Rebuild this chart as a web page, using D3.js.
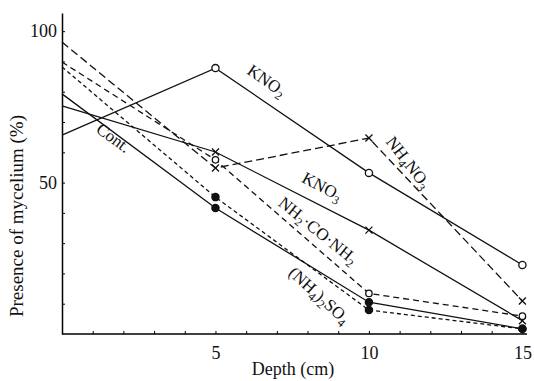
<!DOCTYPE html>
<html>
<head>
<meta charset="utf-8">
<script src="https://cdn.jsdelivr.net/npm/d3@7"></script>
<style>
  body { margin: 0; background: #fff; }
  text { font-family: "Liberation Serif", "DejaVu Serif", serif; fill: #111; }
</style>
</head>
<body>
<script>
  // Depths (cm) at which mycelium presence was recorded
  const depths = [0, 5, 10, 15];

  // Presence of mycelium (%) per treatment
  const kno2 = [65.7, 87.8, 53.2, 22.8];
  const kno3 = [75.3, 60.1, 34.3, 4.4];
  const nh4no3 = [96.4, 54.8, 64.7, 10.9];
  const urea = [89.8, 57.5, 13.4, 5.9];
  const nh4so4 = [88.2, 45.2, 7.9, 1.7];
  const cont = [79.3, 41.6, 10.5, 1.7];

  const xTickLabels = [5, 10, 15];
  const yTickLabels = [50, 100];

  // series: values, dash pattern, marker type
  const series = [
    { name: "KNO_2", values: kno2, dash: null, marker: "open" },
    { name: "KNO_3", values: kno3, dash: null, marker: "cross" },
    { name: "NH_4NO_3", values: nh4no3, dash: "8,4", marker: "cross" },
    { name: "NH_2·CO·NH_2", values: urea, dash: "6,4", marker: "openSmall" },
    { name: "(NH_4)_2SO_4", values: nh4so4, dash: "4,3", marker: "filled" },
    { name: "Cont.", values: cont, dash: null, marker: "filled" },
  ];

  // in-plot labels (data coordinates + angle)
  const labels = [
    { text: "KNO_2", x: 6.66, y: 83.5, angle: 35 },
    { text: "NH_4NO_3", x: 11.27, y: 56.5, angle: 52 },
    { text: "KNO_3", x: 8.47, y: 48.5, angle: 28 },
    { text: "NH_2·CO·NH_2", x: 8.33, y: 34.0, angle: 39 },
    { text: "(NH_4)_2SO_4", x: 8.37, y: 12.6, angle: 42 },
    { text: "Cont.", x: 1.66, y: 64.6, angle: 36 },
  ];

  const width = 534, height = 381;

  const svg = d3.select("body").append("svg")
    .attr("width", width)
    .attr("height", height);

  const x = d3.scaleLinear().domain([0, 15.15]).range([62, 527]);
  const y = d3.scaleLinear().domain([0, 106]).range([334, 13]);

  // axes: inward ticks
  const xAxis = d3.axisBottom(x)
    .tickValues(d3.range(1, 16))
    .tickSizeInner(-3).tickSizeOuter(0)
    .tickFormat(d => xTickLabels.includes(d) ? d : "");

  const yAxis = d3.axisLeft(y)
    .tickValues(d3.range(10, 101, 10))
    .tickSizeInner(-3).tickSizeOuter(0)
    .tickFormat(d => yTickLabels.includes(d) ? d : "");

  const gx = svg.append("g")
    .attr("transform", `translate(0,${y(0)})`)
    .call(xAxis);
  gx.select(".domain").attr("d", `M${x(0)},0H${x.range()[1]}`).attr("stroke-width", 1.5);
  gx.selectAll(".tick text").attr("dy", 0).attr("y", 25).style("font-size", "18px")
    .style("font-family", "Liberation Serif");

  const gy = svg.append("g")
    .attr("transform", `translate(${x(0)},0)`)
    .call(yAxis);
  gy.select(".domain").attr("stroke-width", 1.5);
  gy.selectAll(".tick text").attr("x", -5).style("font-size", "18px")
    .style("font-family", "Liberation Serif");

  // axis titles
  svg.append("text")
    .attr("x", 293).attr("y", 375)
    .attr("text-anchor", "middle")
    .style("font-size", "18px")
    .text("Depth (cm)");

  svg.append("text")
    .attr("transform", "translate(23,216) rotate(-90)")
    .attr("text-anchor", "middle")
    .style("font-size", "19px")
    .text("Presence of mycelium (%)");

  // lines
  const line = d3.line()
    .x((d, i) => x(depths[i]))
    .y(d => y(d));

  svg.selectAll("path.series")
    .data(series)
    .enter()
    .append("path")
    .attr("class", "series")
    .attr("d", d => line(d.values))
    .attr("fill", "none")
    .attr("stroke", "#111")
    .attr("stroke-width", 1.3)
    .attr("stroke-dasharray", d => d.dash);

  // markers (none at depth 0)
  series.forEach(s => {
    const pts = s.values.map((v, i) => ({ x: depths[i], y: v })).filter(p => p.x > 0);
    const g = svg.append("g");
    if (s.marker === "cross") {
      g.selectAll("path")
        .data(pts)
        .enter()
        .append("path")
        .attr("d", d => {
          const cx = x(d.x), cy = y(d.y), r = 3.5;
          return `M${cx - r},${cy - r}L${cx + r},${cy + r}M${cx - r},${cy + r}L${cx + r},${cy - r}`;
        })
        .attr("stroke", "#111")
        .attr("stroke-width", 1.3);
    } else {
      g.selectAll("circle")
        .data(pts)
        .enter()
        .append("circle")
        .attr("cx", d => x(d.x))
        .attr("cy", d => y(d.y))
        .attr("r", s.marker === "openSmall" ? 3.2 : 3.6)
        .attr("fill", s.marker === "filled" ? "#111" : "#fff")
        .attr("stroke", "#111")
        .attr("stroke-width", 1.3);
    }
  });

  // write "A_2B" style text with subscripts
  function chemText(sel, str) {
    const parts = str.split(/(_\d)/).filter(p => p.length);
    let sub = false;
    parts.forEach(p => {
      if (p.startsWith("_")) {
        sel.append("tspan").attr("dy", 4).style("font-size", "12px").text(p.slice(1));
        sub = true;
      } else {
        sel.append("tspan").attr("dy", sub ? -4 : 0).text(p);
        sub = false;
      }
    });
  }

  labels.forEach(l => {
    const t = svg.append("text")
      .attr("transform", `translate(${x(l.x)},${y(l.y)}) rotate(${l.angle})`)
      .attr("text-anchor", "middle")
      .attr("y", 5)
      .style("font-size", "17px");
    chemText(t, l.text);
  });
</script>
</body>
</html>
